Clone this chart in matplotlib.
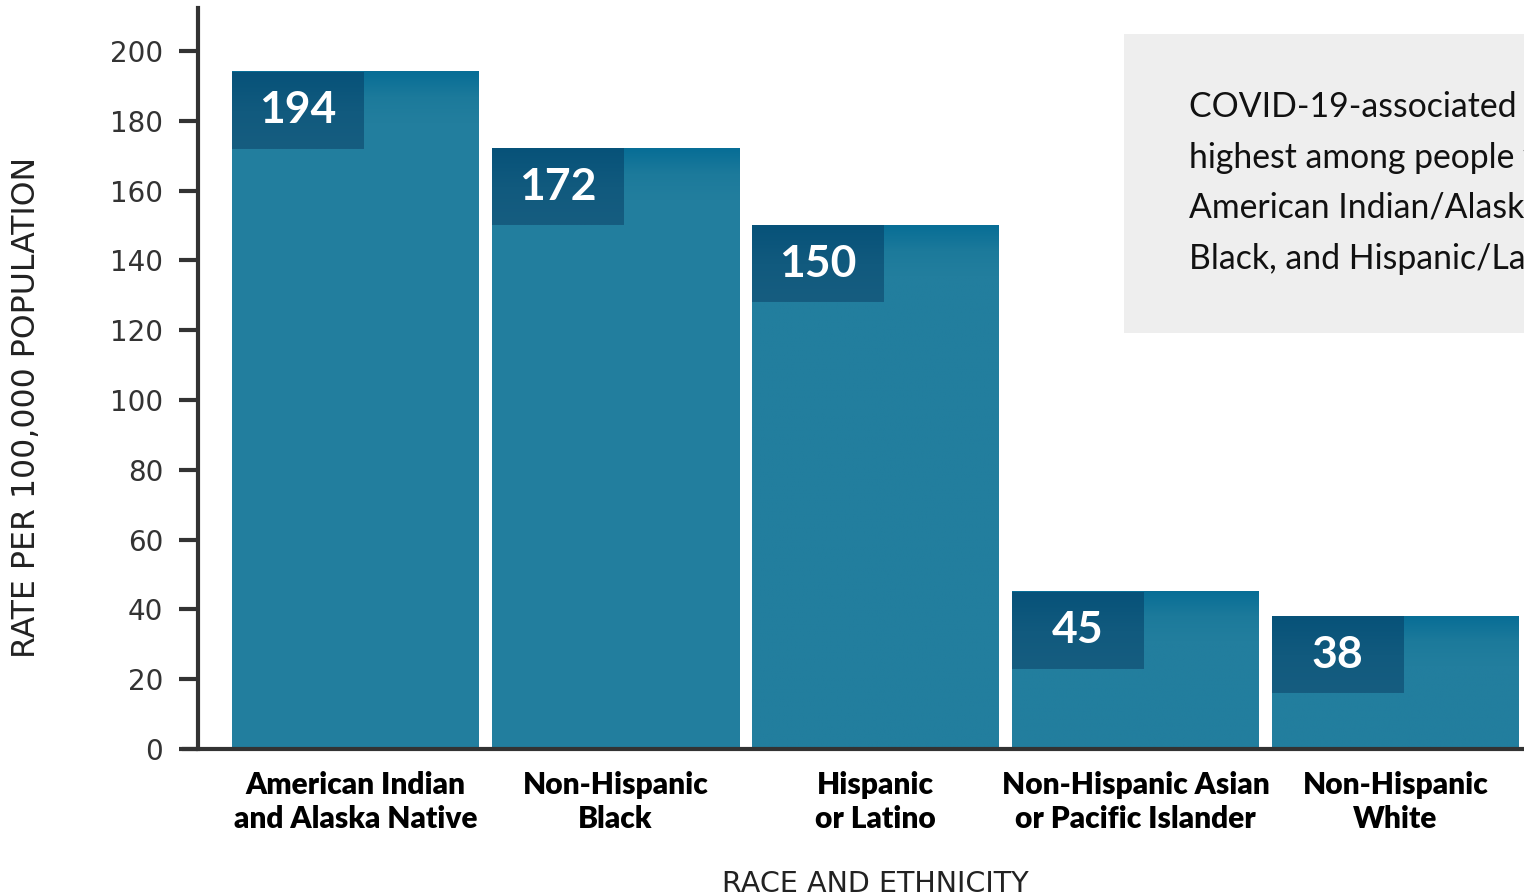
import matplotlib
matplotlib.use("Agg")
import matplotlib.pyplot as plt
import numpy as np
from matplotlib.colors import LinearSegmentedColormap
from matplotlib.patches import Rectangle

groups = ["American Indian\nand Alaska Native", "Non-Hispanic\nBlack", "Hispanic\nor Latino",
          "Non-Hispanic Asian\nor Pacific Islander", "Non-Hispanic\nWhite"]
rates = [194, 172, 150, 45, 38]
y_ticks = [0, 20, 40, 60, 80, 100, 120, 140, 160, 180, 200]
note = ("COVID-19-associated hospitalization rates were\n"
        "highest among people who are non-Hispanic\n"
        "American Indian/Alaska Native, non-Hispanic\n"
        "Black, and Hispanic/Latino.")

plt.rcParams["font.family"] = ["Lato", "DejaVu Sans"]

fig = plt.figure(figsize=(15.24, 8.96), dpi=100)
ax = fig.add_axes([198 / 1524, 1 - 749 / 896, 1 - 198 / 1524, (749 - 8) / 896])

bar_w = 0.95
box_w = 0.504
box_h = 22
fade = 14  # gradient depth near bar top, in data units

bar_cmap = LinearSegmentedColormap.from_list("bar", ["#227e9e", "#1c7a9b", "#086e96"])
box_cmap = LinearSegmentedColormap.from_list("box", ["#165d80", "#115a7e", "#075279"])

x = np.arange(len(rates))
for xi, v in zip(x, rates):
    left = xi - bar_w / 2
    yy = np.linspace(0, v, 200)
    t = np.clip(1 - (v - yy) / fade, 0, 1)[:, None]
    ax.imshow(t, cmap=bar_cmap, vmin=0, vmax=1, origin="lower", aspect="auto",
              extent=[left, left + bar_w, 0, v], interpolation="bilinear", zorder=2)
    yb = np.linspace(v - box_h, v, 60)
    tb = ((yb - (v - box_h)) / box_h)[:, None]
    ax.imshow(tb, cmap=box_cmap, vmin=0, vmax=1, origin="lower", aspect="auto",
              extent=[left, left + box_w, v - box_h, v], interpolation="bilinear", zorder=3)
    ax.text(left + box_w / 2, v - box_h / 2, str(v), color="white", fontsize=32,
            fontweight="bold", ha="center", va="center", zorder=4)

ax.set_xlim(-0.606, 4.494)
ax.set_ylim(0, 212.3)
ax.set_xticks(x)
ax.set_xticklabels(groups, fontsize=21.5, fontweight="heavy", linespacing=1.25)
ax.set_yticks(y_ticks)
ax.set_yticklabels([str(v) for v in y_ticks], family="DejaVu Sans", fontsize=20)
ax.tick_params(axis="x", length=0, pad=16)
ax.tick_params(axis="y", length=14, width=3, color="#333333",
               labelcolor="#333333", pad=11)

for s in ["top", "right"]:
    ax.spines[s].set_visible(False)
ax.spines["left"].set_linewidth(3)
ax.spines["bottom"].set_linewidth(3)
ax.spines["left"].set_color("#333333")
ax.spines["bottom"].set_color("#333333")
ax.spines["bottom"].set_bounds(-0.66, 4.494)
ax.spines["bottom"].set_clip_on(False)

ax.set_ylabel("RATE PER 100,000 POPULATION", family="DejaVu Sans", fontsize=22.7,
              color="#222222")
ax.set_xlabel("RACE AND ETHNICITY", family="DejaVu Sans", fontsize=20.6, color="#222222")
ax.yaxis.set_label_coords(-0.118, 0.4615)
ax.xaxis.set_label_coords(0.5106, -0.163)

panel = Rectangle((1124 / 1524, 1 - 333 / 896), 400 / 1524, 299 / 896,
                  transform=fig.transFigure, facecolor="#eeeeee", edgecolor="none", zorder=0)
fig.patches.append(panel)
txt = fig.text(1189 / 1524, 1 - 91 / 896, note, fontsize=24.3, color="#111111",
               va="top", ha="left", linespacing=1.72)
txt.set_clip_path(panel)

fig.savefig("out.png", dpi=100)
